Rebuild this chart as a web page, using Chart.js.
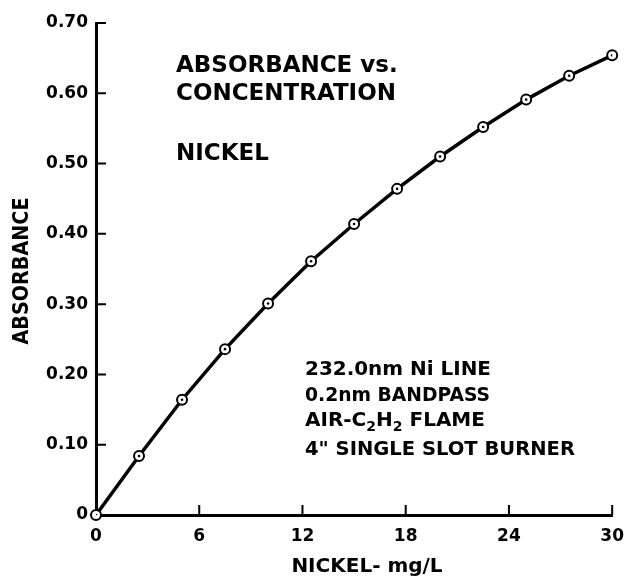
<!DOCTYPE html>
<html>
<head>
<meta charset="utf-8">
<script src="https://cdn.jsdelivr.net/npm/chart.js@4/dist/chart.umd.min.js"></script>
<style>
  html, body { margin: 0; padding: 0; background: #fff; }
  canvas { display: block; }
</style>
</head>
<body>
<canvas id="nickel" width="635" height="578"></canvas>
<script>
// data
const concentration = [0, 2.5, 5, 7.5, 10, 12.5, 15, 17.5, 20, 22.5, 25, 27.5, 30];
const absorbance = [0, 0.084, 0.164, 0.236, 0.301, 0.361, 0.414, 0.464, 0.510, 0.552, 0.591, 0.625, 0.654];
const xTicks = [0, 6, 12, 18, 24, 30];
const yTicks = [0, 0.10, 0.20, 0.30, 0.40, 0.50, 0.60, 0.70];

const FONT = 'DejaVu Sans';

const points = concentration.map((c, i) => ({ x: c, y: absorbance[i] }));

// inward tick marks + all the lettering on the sheet
const sheetPlugin = {
    id: 'sheet',
    afterDraw(chart) {
        const { ctx, scales: { x, y } } = chart;
        const len = 10;

        ctx.save();
        ctx.strokeStyle = '#000';
        ctx.lineWidth = 2;
        ctx.beginPath();
        xTicks.forEach(v => {
            if (v === 0) return;
            const px = x.getPixelForValue(v);
            ctx.moveTo(px, y.bottom);
            ctx.lineTo(px, y.bottom - len);
        });
        yTicks.forEach(v => {
            if (v === 0) return;
            const py = y.getPixelForValue(v);
            ctx.moveTo(x.left, py);
            ctx.lineTo(x.left + len, py);
        });
        ctx.stroke();

        ctx.fillStyle = '#000';
        ctx.textBaseline = 'alphabetic';
        ctx.textAlign = 'left';

        // title block
        ctx.font = `bold 23px "${FONT}"`;
        ctx.fillText('ABSORBANCE vs.', 176, 72, 225);
        ctx.fillText('CONCENTRATION', 176, 100, 224);
        ctx.fillText('NICKEL', 176, 160);

        // conditions block
        const big = `bold 20px "${FONT}"`;
        const small = `bold 14px "${FONT}"`;
        ctx.font = big;
        ctx.fillText('232.0nm Ni LINE', 305, 375, 186);
        ctx.fillText('0.2nm BANDPASS', 305, 401, 185);
        let cx = 305;
        [['AIR-C', big, 0], ['2', small, 5], ['H', big, 0], ['2', small, 5], [' FLAME', big, 0]]
            .forEach(([t, f, dy]) => {
                ctx.font = f;
                ctx.fillText(t, cx, 426 + dy);
                cx += ctx.measureText(t).width;
            });
        ctx.font = big;
        ctx.fillText('4" SINGLE SLOT BURNER', 305, 455, 270);

        // axis titles
        ctx.font = `bold 20px "${FONT}"`;
        ctx.textAlign = 'center';
        ctx.fillText('NICKEL- mg/L', 367, 572, 160);

        ctx.translate(22, 271);
        ctx.rotate(-Math.PI / 2);
        ctx.font = `bold 22px "${FONT}"`;
        ctx.textBaseline = 'middle';
        ctx.fillText('ABSORBANCE', 0, 0, 147);
        ctx.restore();
    }
};

new Chart(document.getElementById('nickel'), {
    type: 'line',
    data: {
        datasets: [
            {
                // centre dots of the plotted circles
                data: points,
                showLine: false,
                pointRadius: 1.3,
                pointBackgroundColor: '#000',
                pointBorderWidth: 0,
                order: 0
            },
            {
                data: points,
                borderColor: '#000',
                borderWidth: 3.5,
                tension: 0,
                pointStyle: 'circle',
                pointRadius: 5,
                pointBorderWidth: 2,
                pointBorderColor: '#000',
                pointBackgroundColor: '#fff',
                clip: false,
                order: 1
            }
        ]
    },
    options: {
        responsive: false,
        animation: false,
        events: [],
        layout: { padding: { top: 23, right: 16, left: 0, bottom: 0 } },
        plugins: {
            legend: { display: false },
            tooltip: { enabled: false }
        },
        scales: {
            x: {
                type: 'linear',
                min: 0,
                max: 30,
                afterFit: s => { s.height = 63; },
                afterBuildTicks: s => { s.ticks = xTicks.map(v => ({ value: v })); },
                grid: { display: false, drawTicks: false },
                border: { display: true, color: '#000', width: 3 },
                ticks: {
                    color: '#000',
                    padding: 11,
                    font: { family: FONT, size: 17, weight: 'bold' },
                    maxRotation: 0
                }
            },
            y: {
                type: 'linear',
                min: 0,
                max: 0.7,
                afterFit: s => { s.width = 96; },
                afterBuildTicks: s => { s.ticks = yTicks.map(v => ({ value: v })); },
                grid: { display: false, drawTicks: false },
                border: { display: true, color: '#000', width: 3 },
                ticks: {
                    color: '#000',
                    padding: 8,
                    font: { family: FONT, size: 17, weight: 'bold' },
                    callback: v => v === 0 ? '0' : v.toFixed(2)
                }
            }
        }
    },
    plugins: [sheetPlugin]
});
</script>
</body>
</html>
